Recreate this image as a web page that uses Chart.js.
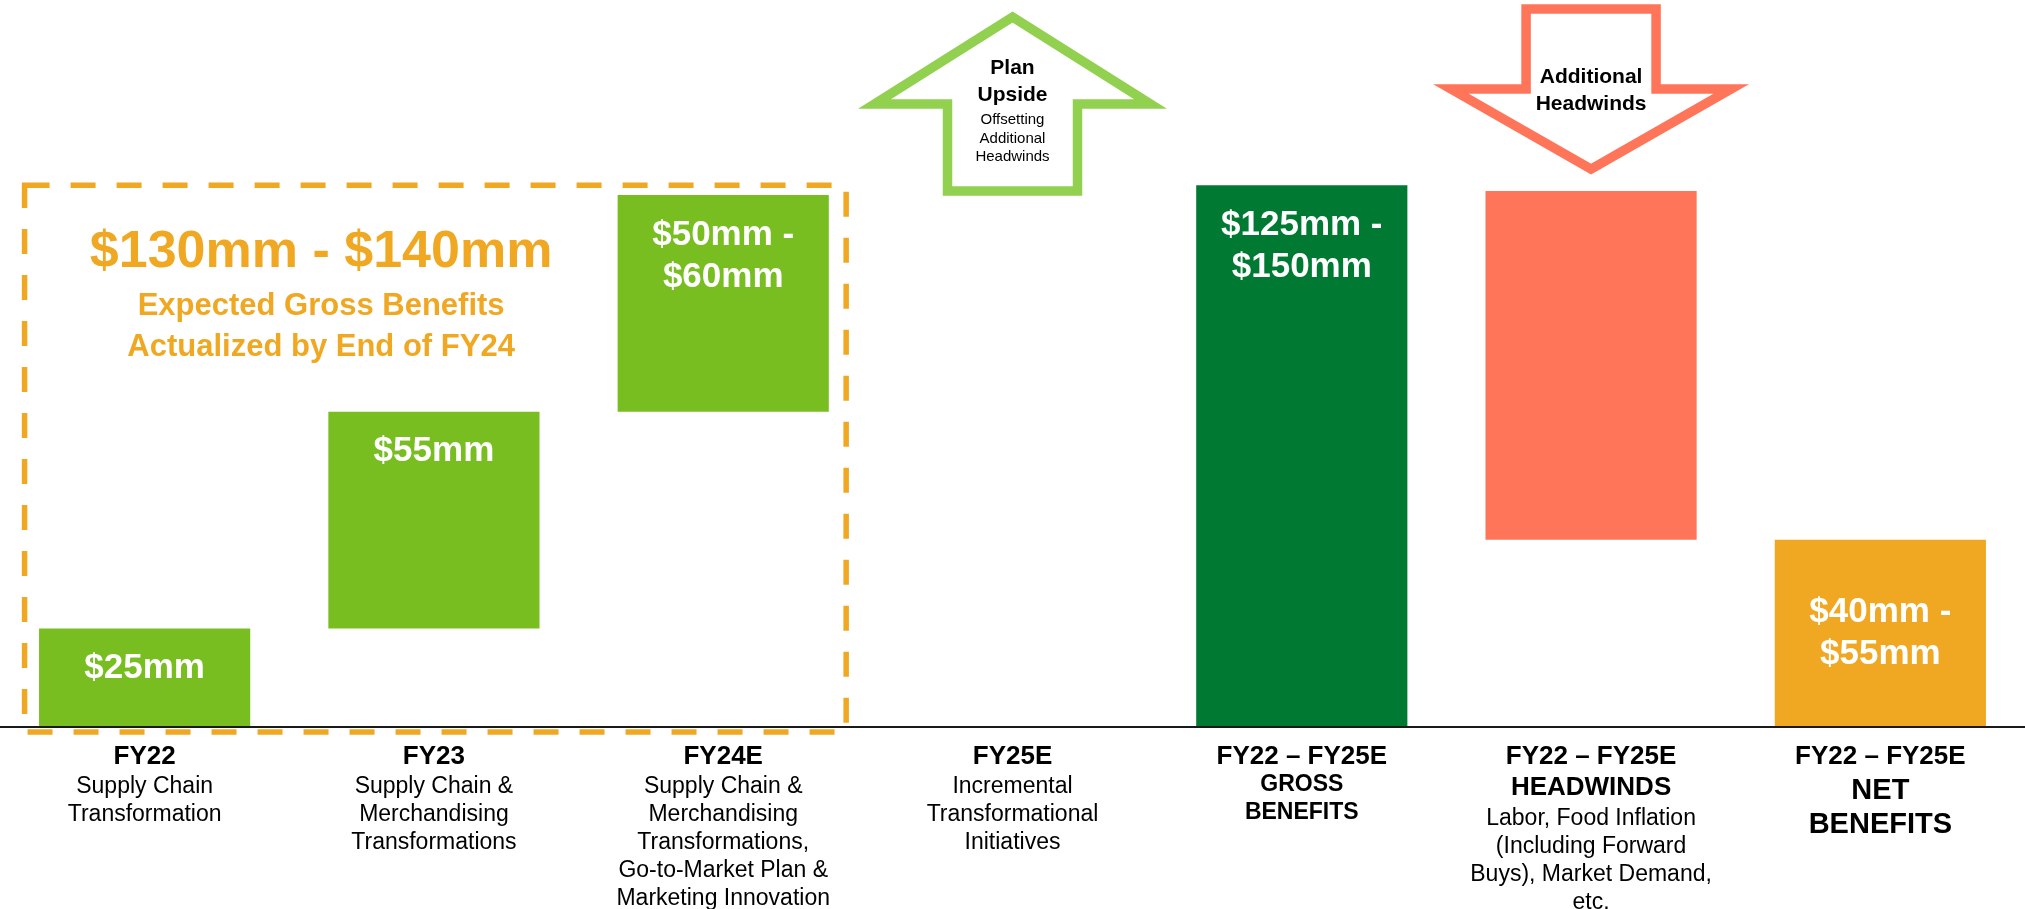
<!DOCTYPE html>
<html>
<head>
<meta charset="utf-8">
<script src="https://cdn.jsdelivr.net/npm/chart.js@4.4.1/dist/chart.umd.min.js"></script>
<style>
  html, body { margin: 0; padding: 0; background: #fff; }
  canvas { display: block; }
</style>
</head>
<body>
<canvas id="chart" width="2025" height="909"></canvas>
<script>
// axis categories and the text under each one
const categories = ["FY22", "FY23", "FY24E", "FY25E", "FY22 – FY25E", "FY22 – FY25E", "FY22 – FY25E"];
const subTitles = [[], [], [], [], ["GROSS", "BENEFITS"], ["HEADWINDS"], ["NET", "BENEFITS"]];
const descriptions = [
    ["Supply Chain", "Transformation"],
    ["Supply Chain &", "Merchandising", "Transformations"],
    ["Supply Chain &", "Merchandising", "Transformations,", "Go-to-Market Plan &", "Marketing Innovation"],
    ["Incremental", "Transformational", "Initiatives"],
    [],
    ["Labor, Food Inflation", "(Including Forward", "Buys), Market Demand,", "etc."],
    []
];

// floating bars ($mm): bottom and top of each bar
const barLows = [0, 25, 80, null, 0, 47.5, 0];
const barHighs = [25, 80, 135, null, 137.5, 136, 47.5];
const barLabels = [["$25mm"], ["$55mm"], ["$50mm -", "$60mm"], [], ["$125mm -", "$150mm"], [], ["$40mm -", "$55mm"]];

// callout texts
const boxTitle = "$130mm - $140mm";
const boxText = ["Expected Gross Benefits", "Actualized by End of FY24"];
const upArrowTitle = ["Plan", "Upside"];
const upArrowText = ["Offsetting", "Additional", "Headwinds"];
const downArrowTitle = ["Additional", "Headwinds"];

const FONT = '"Liberation Sans", Arial, sans-serif';
const ORANGE = "#F0A823";
const barColors = ["#78BE20", "#78BE20", "#78BE20", "#78BE20", "#007A33", "#FF7559", ORANGE];
const labelCentered = [false, false, false, false, false, false, true];
const subTitleSizes = [0, 0, 0, 0, 23, 26, 29];

const ranges = barLows.map((lo, i) => lo === null ? null : [lo, barHighs[i]]);

function polygon(ctx, pts, color, width) {
    ctx.beginPath();
    ctx.moveTo(pts[0][0], pts[0][1]);
    for (let k = 1; k < pts.length; k++) ctx.lineTo(pts[k][0], pts[k][1]);
    ctx.closePath();
    ctx.lineJoin = "miter";
    ctx.strokeStyle = color;
    ctx.lineWidth = width;
    ctx.stroke();
}

const callouts = {
    id: "callouts",
    afterDatasetsDraw(chart) {
        const ctx = chart.ctx;
        const xs = chart.scales.x, ys = chart.scales.y;
        const area = chart.chartArea;
        const meta = chart.getDatasetMeta(0);
        const catW = xs.width / categories.length;
        const base = ys.getPixelForValue(0);
        ctx.save();

        // axis line
        ctx.strokeStyle = "#1a1a1a";
        ctx.lineWidth = 2;
        ctx.beginPath();
        ctx.moveTo(area.left, base);
        ctx.lineTo(area.right, base);
        ctx.stroke();

        // values inside the bars
        ctx.textAlign = "center";
        ctx.textBaseline = "middle";
        ctx.fillStyle = "#fff";
        ctx.font = "bold 35px " + FONT;
        meta.data.forEach((bar, i) => {
            const lines = barLabels[i];
            if (!lines.length) return;
            const p = bar.getProps(["x", "y", "base"]);
            const top = Math.min(p.y, p.base), bottom = Math.max(p.y, p.base);
            let y0 = top + 40;
            if (labelCentered[i]) y0 = (top + bottom) / 2 - (lines.length - 1) * 42 / 2;
            lines.forEach((t, k) => ctx.fillText(t, p.x, y0 + k * 42));
        });

        // category text below the axis
        ctx.fillStyle = "#000";
        categories.forEach((cat, i) => {
            const cx = xs.getPixelForValue(i);
            let y = base + 30;
            ctx.font = "bold 26px " + FONT;
            ctx.fillText(cat, cx, y);
            let prev = "title";
            subTitles[i].forEach(t => {
                y += subTitleSizes[i] + 5;
                ctx.font = "bold " + subTitleSizes[i] + "px " + FONT;
                ctx.fillText(t, cx, y);
                prev = "sub";
            });
            descriptions[i].forEach(t => {
                y += prev === "title" ? 30 : prev === "sub" ? 31 : 28;
                ctx.font = "23px " + FONT;
                ctx.fillText(t, cx, y);
                prev = "desc";
            });
        });

        // dashed box around FY22-FY24E
        const left = xs.getPixelForValue(0) - catW * 0.415;
        const right = xs.getPixelForValue(2) + catW * 0.425;
        const top = ys.getPixelForValue(137.5);
        ctx.setLineDash([25, 21]);
        ctx.strokeStyle = ORANGE;
        ctx.lineWidth = 5.5;
        ctx.strokeRect(left, top, right - left, base + 5 - top);
        ctx.setLineDash([]);

        const bar3 = meta.data[2];
        const tx = (left + bar3.x - bar3.width / 2) / 2;
        ctx.fillStyle = ORANGE;
        ctx.font = "bold 52px " + FONT;
        ctx.fillText(boxTitle, tx, top + 67);
        ctx.font = "bold 31px " + FONT;
        boxText.forEach((t, k) => ctx.fillText(t, tx, top + 121 + k * 41));

        // up arrow over FY25E
        const ux = xs.getPixelForValue(3);
        polygon(ctx, [[ux, 17], [ux + 138, 104], [ux + 65, 104], [ux + 65, 191],
            [ux - 65, 191], [ux - 65, 104], [ux - 138, 104]], "#92D050", 9.5);
        ctx.fillStyle = "#000";
        ctx.font = "bold 21px " + FONT;
        upArrowTitle.forEach((t, k) => ctx.fillText(t, ux, 68 + k * 27));
        ctx.font = "15px " + FONT;
        upArrowText.forEach((t, k) => ctx.fillText(t, ux, 120 + k * 18.5));

        // down arrow over headwinds
        const dx = meta.data[5].x;
        polygon(ctx, [[dx - 65, 9], [dx + 65, 9], [dx + 65, 89], [dx + 140, 89],
            [dx, 169], [dx - 140, 89], [dx - 65, 89]], "#FF7559", 9.5);
        ctx.font = "bold 21px " + FONT;
        downArrowTitle.forEach((t, k) => ctx.fillText(t, dx, 77 + k * 27));

        ctx.restore();
    }
};

new Chart(document.querySelector("#chart"), {
    type: "bar",
    data: {
        labels: categories,
        datasets: [{
            data: ranges,
            backgroundColor: barColors,
            borderWidth: 0,
            barPercentage: 0.73,
            categoryPercentage: 1
        }]
    },
    options: {
        responsive: false,
        animation: false,
        devicePixelRatio: 1,
        layout: { padding: { top: 0, bottom: 182, left: 0, right: 0 } },
        plugins: { legend: { display: false }, tooltip: { enabled: false } },
        scales: {
            x: { display: false, offset: true },
            y: { display: false, min: 0, max: 184.5 }
        }
    },
    plugins: [callouts]
});
</script>
</body>
</html>
